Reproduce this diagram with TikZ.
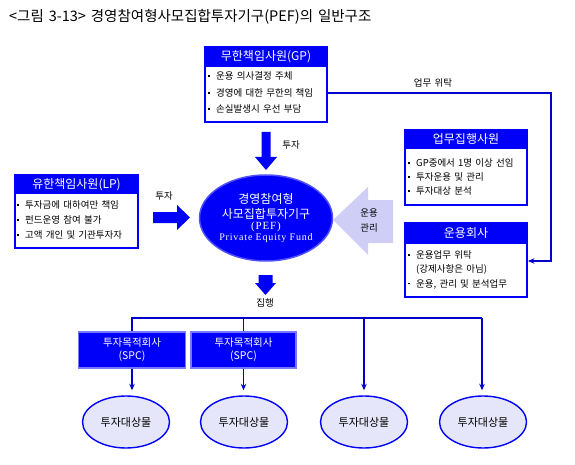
\documentclass[tikz,border=0pt]{standalone}
\usepackage{fontspec}
\setmainfont{Noto Sans CJK KR}[WordSpace=1.5]
\newfontfamily\serifen{Liberation Serif}[LetterSpace=8]
\usetikzlibrary{shapes.geometric,arrows.meta}
\definecolor{bmain}{RGB}{0,0,250}
\definecolor{lblue}{RGB}{0,0,205}
\definecolor{lav}{RGB}{206,206,246}
\definecolor{ellfill}{RGB}{230,230,250}
\definecolor{spcedge}{RGB}{120,120,255}
\definecolor{pefedge}{RGB}{80,80,255}
\newcommand\bul{\makebox[8pt][l]{\rule[0.28em]{1.7pt}{1.7pt}}}
\begin{document}
\begin{tikzpicture}[x=1pt,y=-1pt,
  frame/.style={draw=bmain, line width=1.8pt, fill=white, inner sep=0},
  head/.style={fill=bmain, text=white, inner sep=0, font=\fontsize{12}{14}\selectfont},
  bodyt/.style={anchor=west, inner sep=0, font=\fontsize{9.5}{11}\selectfont},
  lbl/.style={inner sep=0, font=\fontsize{9.5}{15}\selectfont},
  conn/.style={draw=lblue, line width=1.1pt},
  tip/.style={-{Stealth[length=6.5pt,width=5.5pt]}},
  spc/.style={fill=bmain, draw=spcedge, line width=1.3pt, text=white, align=center,
    minimum width=106pt, minimum height=36pt, inner sep=0, font=\fontsize{10.5}{13}\selectfont},
  target/.style={ellipse, fill=ellfill, draw=bmain, line width=1.4pt, minimum width=87pt,
    minimum height=52pt, inner sep=0, font=\fontsize{11}{12}\selectfont}
]
\useasboundingbox (0,0) rectangle (575,465);

% title
\node[anchor=west, inner sep=0, font=\fontsize{14.5}{16}\selectfont] (title) at (9,17)
  {<그림 3-13> 경영참여형사모집합투자기구(PEF)의 일반구조};

% GP box
\node[frame, minimum width=122pt, minimum height=75pt] (gp) at (266,84.5) {};
\node[head, minimum width=122pt, minimum height=21pt, anchor=north] (gph) at (gp.north) {무한책임사원(GP)};
\node[bodyt] (gp1) at (208,76) {\bul 운용 의사결정 주체};
\node[bodyt] (gp2) at (208,93) {\bul 경영에 대한 무한의 책임};
\node[bodyt] (gp3) at (208,109) {\bul 손실발생시 우선 부담};

% LP box
\node[frame, minimum width=123pt, minimum height=73pt] (lp) at (76.5,211.5) {};
\node[head, minimum width=123pt, minimum height=20pt, anchor=north] (lph) at (lp.north) {유한책임사원(LP)};
\node[bodyt] (lp1) at (17,205) {\bul 투자금에 대하여만 책임};
\node[bodyt] (lp2) at (17,220) {\bul 펀드운영 참여 불가};
\node[bodyt] (lp3) at (17,235) {\bul 고액 개인 및 기관투자자};

% 업무집행사원 box
\node[frame, minimum width=122pt, minimum height=75pt] (ex) at (466,167.5) {};
\node[head, minimum width=122pt, minimum height=20pt, anchor=north] (exh) at (ex.north) {업무집행사원};
\node[bodyt] (ex1) at (408,163) {\bul GP중에서 1명 이상 선임};
\node[bodyt] (ex2) at (408,177) {\bul 투자운용 및 관리};
\node[bodyt] (ex3) at (408,191) {\bul 투자대상 분석};

% 운용회사 box
\node[frame, minimum width=122pt, minimum height=74pt] (am) at (466,260) {};
\node[head, minimum width=122pt, minimum height=22pt, anchor=north] (amh) at (am.north) {운용회사};
\node[bodyt] (am1) at (408,255) {\bul 운용업무 위탁};
\node[bodyt] (am2) at (416,269) {(강제사항은 아님)};
\node[bodyt] (am3) at (408,284) {\bul 운용, 관리 및 분석업무};

% PEF ellipse
\node[ellipse, fill=bmain, draw=pefedge, line width=1.5pt, minimum width=133pt, minimum height=86pt,
  inner sep=0, text=white, align=center] (pef) at (266,218)
  {{\fontsize{12}{14}\selectfont 경영참여형}\\[3pt]
   {\fontsize{12}{14}\selectfont 사모집합투자기구}\\[-1pt]
   {\fontsize{11}{14}\selectfont\serifen (PEF)}\\[-1pt]
   {\fontsize{10}{14}\selectfont\serifen Private Equity Fund}};

% thick arrows
\fill[bmain] (261.5,132) -- (270.5,132) -- (270.5,157) -- (277,157) -- (266,170)
  -- (255,157) -- (261.5,157) -- cycle;
\fill[bmain] (153,212) -- (177,212) -- (177,205) -- (190,217.5) -- (177,230)
  -- (177,223) -- (153,223) -- cycle;
\fill[bmain] (258.5,275) -- (272.5,275) -- (272.5,283) -- (276,283) -- (265.5,295)
  -- (255,283) -- (258.5,283) -- cycle;
\fill[lav] (333,220) -- (368,187) -- (368,200) -- (393,200) -- (393,243)
  -- (368,243) -- (368,255) -- cycle;

% labels
\node[lbl] (l1) at (291,145) {투자};
\node[lbl] (l2) at (164,196) {투자};
\node[lbl] (l3) at (433,83) {업무 위탁};
\node[lbl, align=center] (l4) at (369,221) {운용\\관리};
\node[lbl] (l5) at (265,303) {집행};

% GP -> 운용회사 connector
\coordinate (k1) at (551,93);
\coordinate (k2) at (551,261);
\draw[conn, tip] (gp.east |- k1) -- (k1) -- (k2) -- (am.east |- k2);

% SPC boxes and targets
\node[spc, minimum width=107pt] (spc1) at (132,350) {투자목적회사\\(SPC)};
\node[spc, minimum width=105pt] (spc2) at (243.5,350) {투자목적회사\\(SPC)};
\node[target] (e1) at (126,422) {투자대상물};
\node[target] (e2) at (244,422) {투자대상물};
\node[target] (e3) at (364,422) {투자대상물};
\node[target] (e4) at (483,422) {투자대상물};

\coordinate (tl) at (132,318);
\coordinate (tr) at (482,318);
\draw[conn] (spc1.north) |- (tr);
\draw[conn] (spc2.north) -- (spc2.north |- tl);
\draw[conn, tip, shorten >=5pt] (e3.north |- tl) -- (e3.north);
\draw[conn, tip, shorten >=5pt] (tr) -- (tr |- e4.north);
\draw[conn, tip, shorten >=5pt] (spc1.south) -- (spc1.south |- e1.north);
\draw[conn, tip, shorten >=5pt] (spc2.south) -- (spc2.south |- e2.north);
\end{tikzpicture}
\end{document}
